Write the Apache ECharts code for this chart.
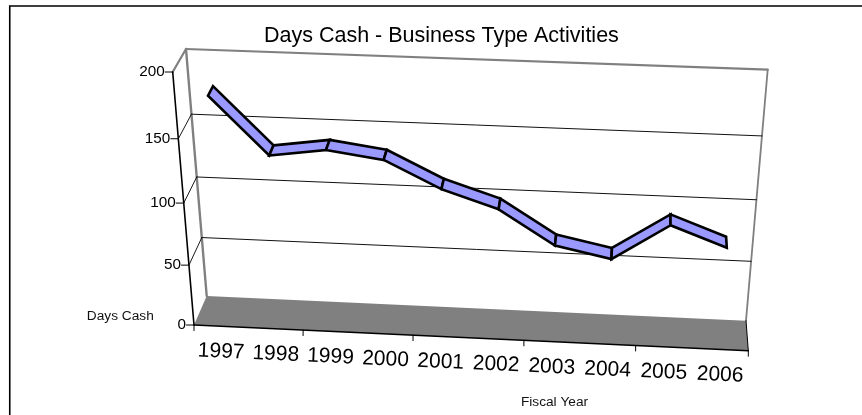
<!DOCTYPE html>
<html><head><meta charset="utf-8">
<style>html,body{margin:0;padding:0;background:#fff}#c{width:862px;height:415px}</style>
<script src="https://cdn.jsdelivr.net/npm/echarts@6/dist/echarts.min.js"></script>
</head><body><div id="c"></div>
<script>
// ---- data ----
var categories = ['1997','1998','1999','2000','2001','2002','2003','2004','2005','2006'];
var daysCash = [178,134,140,134,113,99,72,63,92,76];
var yTicks = [0,50,100,150,200];
var xTickIndexes = [0,2,4,6,8,10];
var chartTitle = 'Days Cash - Business Type Activities';
var yName = 'Days Cash';
var xName = 'Fiscal Year';

// ---- oblique view of the box: screen position of its eight corners ----
var corners = {
  f00:[194,325],   f10:[748.3,350.7], f01:[172.7,72],  f11:[770.5,93.7],
  b00:[206.7,296], b10:[746,320.7],   b01:[186,49],    b11:[767.7,69.7]
};
var KU = 0.98, KV = 0.93;
function persp(t,k){ return t*k/(1+(k-1)*t); }
function lerp(a,b,t){ return [a[0]+(b[0]-a[0])*t, a[1]+(b[1]-a[1])*t]; }
function project(u,v,w){
  var pu = persp(u,KU), pv = persp(v,KV), c = corners;
  var fb = lerp(c.f00,c.f10,pu), ft = lerp(c.f01,c.f11,pu);
  var bb = lerp(c.b00,c.b10,pu), bt = lerp(c.b01,c.b11,pu);
  return lerp(lerp(fb,ft,pv), lerp(bb,bt,pv), w);
}
// grid pixel -> normalised box position, so the library's scales place everything
function norm(params,api,pt){
  var r = params.coordSys;
  return [(pt[0]-r.x)/r.width, (r.y+r.height-pt[1])/r.height];
}
function line(a,b,color,width){
  return {type:'line',shape:{x1:a[0],y1:a[1],x2:b[0],y2:b[1]},
          style:{stroke:color,lineWidth:width,fill:null,lineCap:'round'},silent:true};
}
function poly(points,fill,stroke,width){
  return {type:'polygon',shape:{points:points},
          style:{fill:fill,stroke:stroke||null,lineWidth:width||0,lineJoin:'miter'},silent:true};
}
var GRAY='#808080', INK='#000000', FONT='"Liberation Sans", Arial, sans-serif';

// walls, floor and value axis: one item per y tick
function renderValueTick(params,api){
  var tick = api.value(0);
  var v = norm(params,api,api.coord([0,tick]))[1];
  var kids = [];
  if(tick===0){
    kids.push(poly([project(0,0,0),project(0,0,1),project(1,0,1),project(1,0,0)],GRAY));
    kids.push(line(project(0,0,1),project(0,1,1),GRAY,2.4));
    kids.push(line(project(0,1,1),project(1,1,1),GRAY,2.2));
    kids.push(line(project(1,1,1),project(1,0,1),GRAY,1.8));
    kids.push(line(project(0,1,0),project(0,1,1),GRAY,2.2));
    kids.push(line(project(0,0,0),project(0,1,0),INK,1.6));
    kids.push(line(project(0,0,0),project(1,0,0),INK,1.6));
    kids.push(line(project(1,0,0),project(1,0,1),INK,1));
  } else if(tick<200){
    kids.push(line(project(0,v,0),project(0,v,1),INK,0.9));
    kids.push(line(project(0,v,1),project(1,v,1),'#111',1));
  }
  var p = project(0,v,0);
  kids.push(line([p[0]-7.5,p[1]],p,INK,1));
  kids.push({type:'text',x:p[0]-8,y:p[1],silent:true,
    style:{text:String(tick),font:'15.3px '+FONT,fill:INK,align:'right',verticalAlign:'middle'}});
  return {type:'group',children:kids};
}
// category tick marks
function renderCatTick(params,api){
  var u = api.value(0)/categories.length;
  var p = project(u,0,0);
  return line(p,[p[0],p[1]+5.5],INK,1);
}
// category labels, following the slope of the front edge
function renderCatLabel(params,api){
  var pt = api.coord([api.value(0),0]);
  var u = norm(params,api,pt)[0];
  var p = project(u,0,0);
  return {type:'text',x:p[0],y:p[1]+25.5,rotation:-2.5*Math.PI/180,silent:true,
    style:{text:categories[api.value(0)],font:'21px '+FONT,fill:INK,align:'center',verticalAlign:'middle'}};
}
// ribbon: one face per pair of neighbouring years
var RIB_FRONT=0.3, RIB_BACK=0.7;
function renderRibbon(params,api){
  var i = api.value(0);
  if(i>=daysCash.length-1) return null;
  var a = norm(params,api,api.coord([i,api.value(1)]));
  var b = norm(params,api,api.coord([i+1,daysCash[i+1]]));
  return poly([project(a[0],a[1],RIB_BACK),project(b[0],b[1],RIB_BACK),
               project(b[0],b[1],RIB_FRONT),project(a[0],a[1],RIB_FRONT)],'#9999ff',INK,2.6);
}

var option = {
  animation:false,
  backgroundColor:'#ffffff',
  title:[
    {text:chartTitle,left:436.4,top:20,textAlign:'center',
     textStyle:{fontFamily:FONT,fontSize:21.5,fontWeight:'normal',color:INK}},
    {text:yName,left:115.3,top:304,textAlign:'center',
     textStyle:{fontFamily:FONT,fontSize:13.7,fontWeight:'normal',color:'#111'}},
    {text:xName,left:549.5,top:390,textAlign:'center',
     textStyle:{fontFamily:FONT,fontSize:13.7,fontWeight:'normal',color:'#111'}}
  ],
  graphic:[{type:'polyline',shape:{points:[[9.75,415],[9.75,6],[862,6]]},
            style:{stroke:INK,lineWidth:1.6,fill:null},silent:true}],
  grid:{left:200,right:100,top:70,bottom:70},
  xAxis:{type:'category',data:categories,boundaryGap:true,show:false},
  yAxis:{type:'value',min:0,max:200,interval:50,show:false},
  series:[
    {type:'custom',name:'axis',coordinateSystem:'cartesian2d',renderItem:renderValueTick,clip:false,
     data:yTicks.map(function(t){return [t];}),encode:{y:0},z:1},
    {type:'custom',name:'ticks',coordinateSystem:'cartesian2d',renderItem:renderCatTick,clip:false,
     data:xTickIndexes.map(function(t){return [t];}),z:2},
    {type:'custom',name:'labels',coordinateSystem:'cartesian2d',renderItem:renderCatLabel,clip:false,
     data:categories.map(function(c,i){return [i];}),z:2},
    {type:'custom',name:'Days Cash',coordinateSystem:'cartesian2d',renderItem:renderRibbon,clip:false,
     data:daysCash.map(function(d,i){return [i,d];}),encode:{x:0,y:1},z:3}
  ]
};
echarts.init(document.getElementById('c')).setOption(option);
</script></body></html>
